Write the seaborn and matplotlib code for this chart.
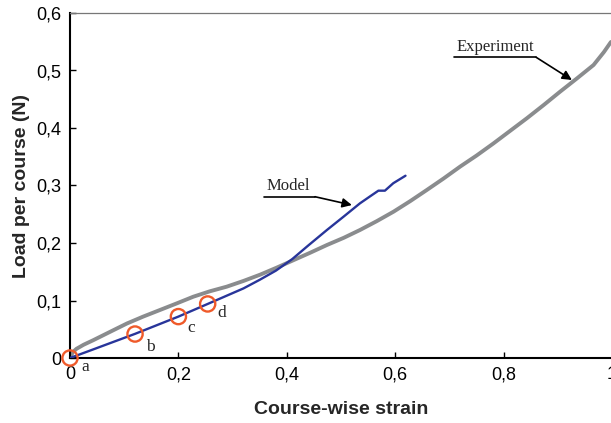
import matplotlib
matplotlib.use("Agg")
import matplotlib.pyplot as plt
import numpy as np
import pandas as pd
import seaborn as sns

sns.set_theme(style="white")
plt.rcParams["font.family"] = ["Liberation Sans", "DejaVu Sans"]

# Experiment curve
exp_strain = [0, 0.005, 0.012, 0.025, 0.043, 0.075, 0.105, 0.135, 0.166, 0.197,
              0.2275, 0.258, 0.289, 0.32, 0.351, 0.381, 0.412, 0.443, 0.474, 0.505,
              0.535, 0.566, 0.597, 0.628, 0.658, 0.689, 0.720, 0.750, 0.781, 0.812,
              0.843, 0.874, 0.904, 0.935, 0.966, 0.985, 0.998]
exp_load = [0, 0.010, 0.016, 0.023, 0.031, 0.046, 0.060, 0.072, 0.0835, 0.095,
            0.1066, 0.116, 0.124, 0.134, 0.145, 0.157, 0.170, 0.183, 0.1965, 0.209,
            0.2226, 0.238, 0.2545, 0.273, 0.292, 0.312, 0.333, 0.352, 0.373, 0.395,
            0.417, 0.440, 0.463, 0.486, 0.5096, 0.532, 0.5496]

# Model curve
model_strain = [0, 0.043, 0.12, 0.20, 0.254, 0.32, 0.35, 0.38, 0.41, 0.44, 0.474,
                0.505, 0.535, 0.555, 0.569, 0.581, 0.5965, 0.619]
model_load = [0, 0.015, 0.042, 0.072, 0.094, 0.121, 0.136, 0.152, 0.172, 0.196, 0.2226,
              0.246, 0.269, 0.282, 0.291, 0.291, 0.304, 0.317]

# Marked states on the model curve
point_labels = ["a", "b", "c", "d"]
point_strain = [0, 0.12, 0.20, 0.254]
point_load = [0, 0.0417, 0.072, 0.094]

x_ticks = [0, 0.2, 0.4, 0.6, 0.8, 1.0]
x_tick_labels = ["0", "0,2", "0,4", "0,6", "0,8", "1"]
y_ticks = [0, 0.1, 0.2, 0.3, 0.4, 0.5, 0.6]
y_tick_labels = ["0", "0,1", "0,2", "0,3", "0,4", "0,5", "0,6"]

exp_df = pd.DataFrame({"strain": exp_strain, "load": exp_load})
model_df = pd.DataFrame({"strain": model_strain, "load": model_load})
pts_df = pd.DataFrame({"strain": point_strain, "load": point_load, "label": point_labels})

fig = plt.figure(figsize=(6.11, 4.23), dpi=100)
ax = fig.add_axes([70 / 611, 65 / 423, 542 / 611, 345 / 423])

sns.lineplot(data=exp_df, x="strain", y="load", sort=False, color="#8a8c8e",
             linewidth=2.8, ax=ax, zorder=2)
sns.lineplot(data=model_df, x="strain", y="load", sort=False, color="#28359a",
             linewidth=1.7, ax=ax, zorder=3)
sns.scatterplot(data=pts_df, x="strain", y="load", marker="o", s=120,
                facecolor="none", edgecolor="#ef5a2a", linewidth=1.7, ax=ax,
                zorder=4, clip_on=False)

label_offsets = {"a": (0.028, -0.016), "b": (0.028, -0.022), "c": (0.024, -0.020), "d": (0.026, -0.016)}
for _, row in pts_df.iterrows():
    dx, dy = label_offsets[row["label"]]
    ax.text(row["strain"] + dx, row["load"] + dy, row["label"], fontsize=12.5,
            family="Liberation Serif", ha="center", va="center")

# Annotations with underline and arrow
for txt, x0, x1, y_line, tip in [("Model", 0.358, 0.452, 0.2805, (0.520, 0.266)),
                                 ("Experiment", 0.7085, 0.860, 0.523, (0.926, 0.4835))]:
    ax.text(x0 + 0.005, y_line + 0.004, txt, family="Liberation Serif", fontsize=12,
            ha="left", va="bottom")
    ax.plot([x0, x1], [y_line, y_line], color="black", linewidth=1.2)
    ax.annotate("", xy=tip, xytext=(x1, y_line),
                arrowprops=dict(arrowstyle="-|>", color="black", lw=1.2,
                                mutation_scale=14, shrinkA=0, shrinkB=0))

ax.set_xlim(0, 1)
ax.set_ylim(0, 0.6)
ax.set_xticks(x_ticks)
ax.set_xticklabels(x_tick_labels)
ax.set_yticks(y_ticks)
ax.set_yticklabels(y_tick_labels)
ax.tick_params(axis="both", direction="in", length=4, width=1, labelsize=13,
               colors="black", bottom=True, left=True, pad=6)

ax.set_xlabel("Course-wise strain", fontsize=14, fontweight="bold", labelpad=13)
ax.set_ylabel("Load per course (N)", fontsize=14, fontweight="bold", labelpad=5)

for side in ["left", "bottom"]:
    ax.spines[side].set_color("black")
    ax.spines[side].set_linewidth(1.5)
ax.spines["top"].set_color("#777777")
ax.spines["top"].set_linewidth(0.9)
ax.spines["right"].set_visible(False)
ax.grid(False)

fig.savefig("out.png", dpi=100)
